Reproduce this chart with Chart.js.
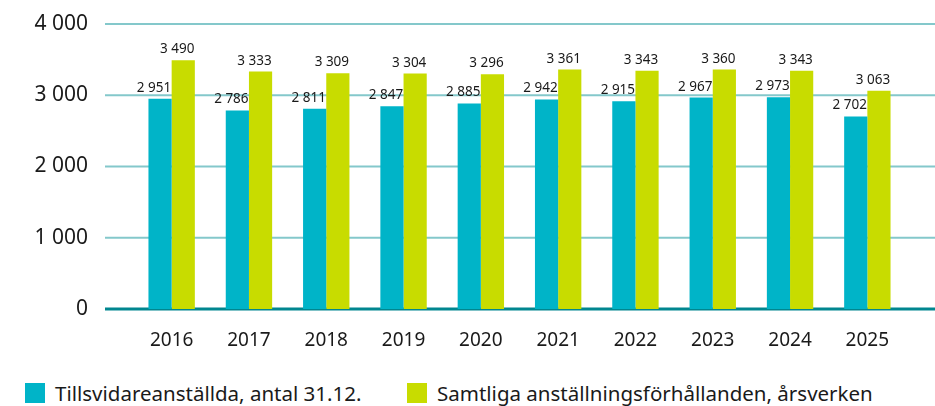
<!DOCTYPE html>
<html>
<head>
<meta charset="utf-8">
<script src="https://cdn.jsdelivr.net/npm/chart.js@4"></script>
<style>
    body { margin: 0; background: #fff; font-family: "Noto Sans", sans-serif; color: #1a1a1a; }
    #legend { position: absolute; left: 0; top: 370px; width: 935px; height: 36px; }
    .item { position: absolute; top: 13px; font-size: 20.5px; line-height: 20px; white-space: nowrap; }
    .item span { display: inline-block; width: 20px; height: 20px; vertical-align: top; margin-right: 10px; }
</style>
</head>
<body>
<canvas id="chart" width="935" height="370"></canvas>
<div id="legend"></div>
<script>
const years = ['2016', '2017', '2018', '2019', '2020', '2021', '2022', '2023', '2024', '2025'];
const permanentStaff = [2951, 2786, 2811, 2847, 2885, 2942, 2915, 2967, 2973, 2702];
const personYears = [3490, 3333, 3309, 3304, 3296, 3361, 3343, 3360, 3343, 3063];
const yTicks = [0, 1000, 2000, 3000, 4000];

const TEAL = '#00b4c8';
const LIME = '#c8dc00';
const FONT = '"Noto Sans", sans-serif';

const fmt = v => v.toString().replace(/\B(?=(\d{3})+(?!\d))/g, ' ');

// Grid lines run from the left of the plot past the category area
const gridPlugin = {
    id: 'grid',
    beforeDatasetsDraw(chart) {
        const { ctx, scales: { y } } = chart;
        ctx.save();
        yTicks.forEach(v => {
            const py = y.getPixelForValue(v);
            ctx.beginPath();
            ctx.lineWidth = v === 0 ? 3 : 2;
            ctx.strokeStyle = v === 0 ? '#00868f' : '#84c8cb';
            ctx.moveTo(105, py);
            ctx.lineTo(chart.width, py);
            ctx.stroke();
        });
        ctx.restore();
    }
};

const labelPlugin = {
    id: 'barLabels',
    afterDatasetsDraw(chart) {
        const { ctx } = chart;
        ctx.save();
        ctx.font = '13.5px ' + FONT;
        ctx.fillStyle = '#1a1a1a';
        ctx.textAlign = 'center';
        ctx.textBaseline = 'alphabetic';
        chart.data.datasets.forEach((ds, i) => {
            chart.getDatasetMeta(i).data.forEach((bar, j) => {
                ctx.fillText(fmt(ds.data[j]), bar.x - 6, bar.y - 7);
            });
        });
        ctx.restore();
    }
};

const chart = new Chart(document.getElementById('chart'), {
    type: 'bar',
    data: {
        labels: years,
        datasets: [
            { label: 'Tillsvidareanställda, antal 31.12.', data: permanentStaff, backgroundColor: TEAL },
            { label: 'Samtliga anställningsförhållanden, årsverken', data: personYears, backgroundColor: LIME }
        ]
    },
    options: {
        responsive: false,
        animation: false,
        layout: { padding: { left: 0, right: 29, top: 24, bottom: 16 } },
        datasets: { bar: { categoryPercentage: 0.6, barPercentage: 1 } },
        plugins: {
            tooltip: { enabled: false },
            legend: { display: false }
        },
        scales: {
            x: {
                afterFit: axis => {
                    axis.height = 45;
                    axis.paddingLeft = 0;
                    axis.paddingRight = 0;
                },
                grid: { display: false, drawTicks: false },
                border: { display: false },
                ticks: { color: '#1a1a1a', font: { family: FONT, size: 19 }, padding: 20 }
            },
            y: {
                min: 0,
                max: 4000,
                afterBuildTicks: axis => { axis.ticks = yTicks.map(v => ({ value: v })); },
                afterFit: axis => {
                    axis.width = 133;
                    // tick padding would otherwise push the plot down
                    axis.paddingTop = 0;
                    axis.paddingBottom = 0;
                },
                grid: { display: false, drawTicks: false },
                border: { display: false },
                ticks: {
                    color: '#1a1a1a',
                    font: { family: FONT, size: 21 },
                    padding: 45,
                    callback: v => fmt(v)
                }
            }
        }
    },
    plugins: [gridPlugin, labelPlugin]
});

// HTML legend
const legend = document.getElementById('legend');
const legendX = [25, 407];
chart.data.datasets.forEach((ds, i) => {
    const item = document.createElement('div');
    item.className = 'item';
    item.style.left = legendX[i] + 'px';
    item.innerHTML = `<span style="background:${ds.backgroundColor}"></span>${ds.label}`;
    legend.appendChild(item);
});
</script>
</body>
</html>
